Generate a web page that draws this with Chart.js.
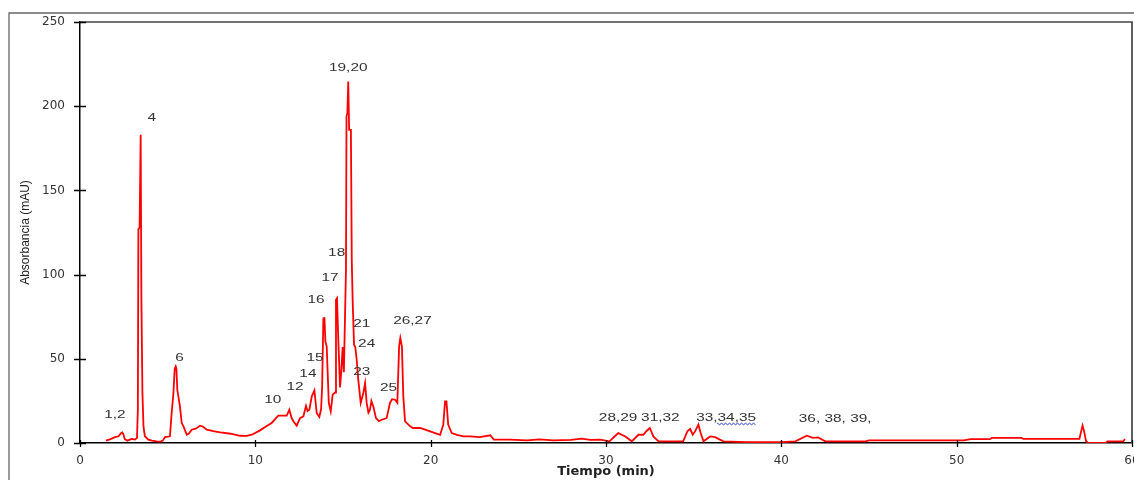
<!DOCTYPE html>
<html>
<head>
<meta charset="utf-8">
<script src="https://cdn.jsdelivr.net/npm/chart.js@4.4.1/dist/chart.umd.min.js"></script>
<style>
  html, body { margin: 0; padding: 0; background: #fff; }
  #wrap { width: 1134px; height: 480px; }
</style>
</head>
<body>
<div id="wrap"><canvas id="chromChart" width="1134" height="480"></canvas></div>
<script>
// chromatogram trace
const timeMin = [
  1.48, 1.7, 2.0, 2.2, 2.35, 2.41, 2.48, 2.55, 2.7, 2.85, 2.95, 3.14, 3.25, 3.30, 3.33, 3.40, 3.46, 3.50, 3.56, 3.62,
  3.7, 3.9, 4.1, 4.37, 4.6, 4.72, 4.85, 5.13, 5.22, 5.33, 5.40, 5.46, 5.50, 5.55, 5.7, 5.8, 5.9, 6.09, 6.2, 6.37,
  6.6, 6.85, 7.0, 7.23, 7.6, 8.0, 8.6, 9.13, 9.5, 9.8, 10.27, 10.6, 10.93, 11.31, 11.79, 11.94, 12.07, 12.2, 12.36, 12.55,
  12.74, 12.89, 12.98, 13.08, 13.22, 13.37, 13.5, 13.65, 13.75, 13.81, 13.88, 13.94, 14.0, 14.07, 14.19, 14.3, 14.41, 14.55, 14.6, 14.66,
  14.72, 14.83, 14.9, 14.98, 15.05, 15.17, 15.2, 15.25, 15.3, 15.35, 15.45, 15.5, 15.55, 15.63, 15.7, 15.78, 15.87, 16.01, 16.16, 16.26,
  16.35, 16.45, 16.54, 16.62, 16.73, 16.88, 17.05, 17.21, 17.49, 17.68, 17.8, 17.97, 18.1, 18.2, 18.27, 18.36, 18.44, 18.54, 18.83, 19.0,
  19.4, 19.97, 20.54, 20.72, 20.82, 20.9, 21.0, 21.2, 21.5, 21.87, 22.25, 22.8, 23.4, 23.6, 24.5, 25.5, 26.2, 27.0, 28.0, 28.6,
  29.1, 29.66, 30.2, 30.5, 30.7, 31.1, 31.47, 31.85, 32.13, 32.3, 32.5, 32.7, 33.0, 34.4, 34.64, 34.8, 34.95, 35.08, 35.27, 35.4,
  35.56, 35.94, 36.22, 36.5, 36.7, 38.0, 40.0, 40.8, 41.45, 41.8, 42.1, 42.5, 44.8, 45.0, 50.4, 50.8, 51.9, 52.0, 53.7, 53.8,
  57.0, 57.1, 57.18, 57.27, 57.38, 57.5, 58.5, 58.6, 59.5, 59.6
];
const absorbance = [
  1.4, 2.2, 3.5, 4.0, 6.0, 6.3, 5.0, 2.4, 1.4, 2.0, 2.4, 2.0, 3.0, 20, 127, 128, 183, 88, 30, 10,
  4, 2, 1.4, 1, 0.8, 1.4, 3.5, 4, 16.8, 30, 44, 45.5, 44, 31.6, 21.7, 12, 9.9, 4.9, 5.5, 7.9,
  8.5, 10.3, 9.8, 7.9, 7, 6.3, 5.5, 4.3, 4.2, 4.9, 7.5, 9.8, 11.9, 16.2, 16.2, 19.8, 14.8, 12.5, 10.3, 14.8,
  15.8, 22.1, 19, 19.8, 27.7, 31.2, 17.8, 15.4, 20, 33.6, 74, 74.2, 60, 57.4, 23.8, 18.8, 28.7, 30, 85, 86,
  65, 33, 42, 57, 42, 103, 194, 196, 214.7, 186, 186, 108.8, 85, 58.4, 57, 49.5, 37.6, 23.8, 29.7, 35.6,
  23.8, 18, 19.8, 25, 21.7, 14.8, 13, 13.8, 14.8, 23.8, 26, 25.7, 23.8, 57.4, 62.3, 57.4, 27.7, 12.8, 9.9, 8.9,
  8.9, 6.9, 4.9, 10.9, 24.7, 24.7, 10.9, 5.9, 4.8, 3.9, 3.9, 3.5, 4.6, 2, 2, 1.6, 2.2, 1.6, 1.8, 2.6,
  1.8, 2, 1, 4, 5.9, 3.9, 1, 4.9, 4.9, 7, 8.9, 3.9, 1, 1, 6.9, 8.3, 4.9, 6.9, 10.9, 5.9,
  1, 3.9, 3.5, 2, 1, 0.5, 0.5, 1, 4.3, 3, 3.3, 1, 1, 1.5, 1.5, 2.3, 2.3, 3, 3, 2.4,
  2.4, 6.9, 10.3, 6.9, 1, 0, 0, 1, 1, 2.4
];

const xTicks = [0, 10, 20, 30, 40, 50, 60];
const yTicks = [0, 50, 100, 150, 200, 250];

// peak labels and where they sit (min, mAU)
const peakNames = ['1,2', '4', '6', '10', '12', '14', '15', '16', '17', '18', '19,20', '21', '24', '23', '25', '26,27',
  '28,29', '31,32', '33,34,35', '36, 38, 39,'];
const peakLabelTime = [1.99, 4.09, 5.67, 11.0, 12.26, 13.0, 13.4, 13.46, 14.26, 14.64, 15.3, 16.07, 16.35, 16.07, 17.6, 18.96,
  30.69, 33.1, 36.85, 43.07];
const peakLabelHeight = [16.8, 193, 50.6, 25.8, 33.0, 41.1, 50.6, 84.9, 98.1, 113, 222.7, 70.8, 59, 42.1, 32.6, 72.7,
  15, 15, 15, 14.5];

const trace = timeMin.map((t, i) => ({ x: t, y: absorbance[i] }));

const decorPlugin = {
  id: 'decor',
  afterDraw(chart) {
    const { ctx, chartArea: a, scales: { x, y } } = chart;
    ctx.save();

    // outer frame (cut by the picture edge)
    ctx.strokeStyle = '#666';
    ctx.lineWidth = 1.3;
    ctx.beginPath();
    ctx.moveTo(9, chart.height);
    ctx.lineTo(9, 13);
    ctx.lineTo(chart.width, 13);
    ctx.stroke();

    // top and right of the plot box
    ctx.strokeStyle = '#444';
    ctx.lineWidth = 1.7;
    ctx.beginPath();
    ctx.moveTo(a.left, a.top);
    ctx.lineTo(a.right, a.top);
    ctx.lineTo(a.right, a.bottom);
    ctx.stroke();

    // tick marks crossing the axes
    ctx.strokeStyle = '#000';
    ctx.lineWidth = 1.3;
    ctx.beginPath();
    y.ticks.forEach(t => {
      const py = Math.round(y.getPixelForValue(t.value)) + 0.5;
      ctx.moveTo(a.left - 6, py);
      ctx.lineTo(a.left + 6, py);
    });
    x.ticks.forEach(t => {
      const px = Math.round(x.getPixelForValue(t.value)) + 0.5;
      ctx.moveTo(px, a.bottom - 3);
      ctx.lineTo(px, a.bottom + 4);
    });
    ctx.stroke();

    // peak numbers
    const sx = 1.4;
    ctx.font = '11px "Liberation Sans", Arial, sans-serif';
    ctx.fillStyle = '#333';
    ctx.textAlign = 'center';
    ctx.textBaseline = 'middle';
    peakNames.forEach((name, i) => {
      const px = x.getPixelForValue(peakLabelTime[i]);
      const py = y.getPixelForValue(peakLabelHeight[i]);
      ctx.save();
      ctx.translate(px, py);
      ctx.scale(sx, 1);
      ctx.fillText(name, 0, 0);
      ctx.restore();

      // spell-check squiggle under "34,35"
      if (name === '33,34,35') {
        const full = ctx.measureText(name).width * sx;
        const head = ctx.measureText('33,').width * sx;
        const x0 = px - full / 2 + head;
        const x1 = px + full / 2;
        const yb = py + 6;
        ctx.strokeStyle = '#2233cc';
        ctx.lineWidth = 1;
        ctx.beginPath();
        ctx.moveTo(x0, yb);
        for (let xx = x0, k = 0; xx <= x1; xx += 2, k++) {
          ctx.lineTo(xx, yb + (k % 2 ? 1 : -0.5));
        }
        ctx.stroke();
      }
    });

    ctx.restore();
  }
};

new Chart(document.getElementById('chromChart').getContext('2d'), {
  type: 'line',
  data: {
    datasets: [{
      label: 'Absorbancia',
      data: trace,
      borderColor: '#ff0000',
      borderWidth: 1.8,
      pointRadius: 0,
      tension: 0,
      fill: false
    }]
  },
  options: {
    responsive: false,
    animation: false,
    layout: { padding: { top: 22, right: 2, left: 0, bottom: 0 } },
    plugins: {
      legend: { display: false },
      tooltip: { enabled: false }
    },
    scales: {
      x: {
        type: 'linear',
        min: 0,
        max: 60,
        afterBuildTicks: s => { s.ticks = xTicks.map(v => ({ value: v })); },
        afterFit: s => { s.height = 37; s.paddingLeft = 0; s.paddingRight = 0; },
        grid: { display: false, drawTicks: false },
        border: { display: true, color: '#000', width: 1.5 },
        ticks: {
          padding: 11,
          autoSkip: false,
          maxRotation: 0,
          color: '#333',
          font: { family: '"DejaVu Sans", sans-serif', size: 12 }
        },
        title: {
          display: true,
          text: 'Tiempo (min)',
          color: '#222',
          padding: { top: 0, bottom: 1 },
          font: { family: '"DejaVu Sans", sans-serif', size: 13, weight: 'bold' }
        }
      },
      y: {
        min: 0,
        max: 250,
        afterBuildTicks: s => { s.ticks = yTicks.map(v => ({ value: v })); },
        afterFit: s => { s.width = 80; s.paddingTop = 0; s.paddingBottom = 0; },
        grid: { display: false, drawTicks: false },
        border: { display: true, color: '#000', width: 1.5 },
        ticks: {
          padding: 15,
          color: '#333',
          font: { family: '"DejaVu Sans", sans-serif', size: 12 }
        },
        title: {
          display: true,
          text: 'Absorbancia (mAU)',
          color: '#222',
          padding: { top: 18, bottom: 0 },
          font: { family: '"Liberation Sans", Arial, sans-serif', size: 12 }
        }
      }
    }
  },
  plugins: [decorPlugin]
});
</script>
</body>
</html>
